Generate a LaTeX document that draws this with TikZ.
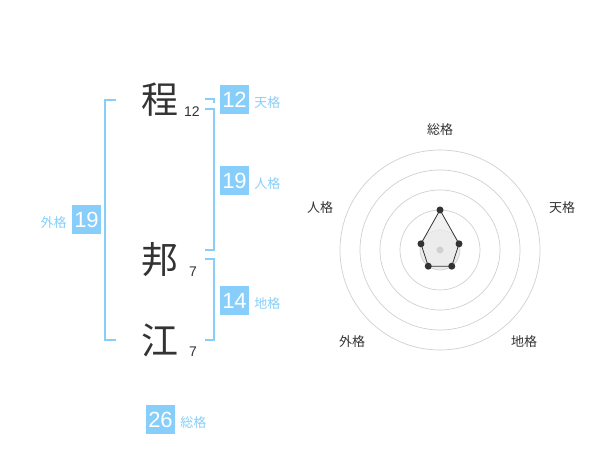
\documentclass[tikz,border=0pt]{standalone}
\usepackage{fontspec}
\setmainfont{Liberation Sans}
\newfontfamily\cjk{Noto Sans CJK JP}
\usetikzlibrary{positioning}
\definecolor{kakublue}{RGB}{135,206,250}
\definecolor{inkgray}{RGB}{51,51,51}
\definecolor{ringgray}{RGB}{208,208,208}
\definecolor{fillgray}{RGB}{236,236,236}

\begin{document}
\begin{tikzpicture}[x=1pt,y=-1pt]
    \tikzset{
        kanji/.style={font=\cjk\fontsize{37}{37}\selectfont, text=inkgray, inner sep=0pt},
        strokes/.style={font=\fontsize{14}{14}\selectfont, text=inkgray, inner sep=0pt},
        numbox/.style={fill=kakublue, text=white, font=\fontsize{22}{22}\selectfont,
            minimum width=29pt, minimum height=29pt, inner sep=0pt},
        kakulabel/.style={font=\cjk\fontsize{13}{13}\selectfont, text=kakublue, inner sep=0pt,
            yshift=-3pt},
        bracket/.style={kakublue, line width=1.6pt},
        ring/.style={ringgray, line width=0.7pt},
        axislabel/.style={font=\cjk\fontsize{13}{13}\selectfont, text=inkgray, inner sep=0pt}
    }
    \useasboundingbox (0,0) rectangle (600,470);

    % name
    \node[kanji] (sei) at (160,100) {程};
    \node[kanji] (mei1) at (160,260) {邦};
    \node[kanji] (mei2) at (160,340) {江};
    \node[strokes] (sei-n) at (192,112) {12};
    \node[strokes] (mei1-n) at (193,272) {7};
    \node[strokes] (mei2-n) at (193,352) {7};

    % brackets
    \draw[bracket] (205,99) -- (214,99) -- (214,103);
    \draw[bracket] (205,109) -- (214,109) -- (214,250) -- (205,250);
    \draw[bracket] (205,259) -- (214,259) -- (214,340) -- (205,340);
    \draw[bracket] (116,100) -- (105,100) -- (105,340) -- (116,340);

    % kakusu
    \node[numbox] (ten) at (234.5,100) {12};
    \node[kakulabel, right=5pt of ten] (ten-l) {天格};
    \node[numbox] (jin) at (234.5,180.5) {19};
    \node[kakulabel, right=5pt of jin] (jin-l) {人格};
    \node[numbox] (chi) at (234.5,300.5) {14};
    \node[kakulabel, right=5pt of chi] (chi-l) {地格};
    \node[numbox] (gai) at (86.5,220) {19};
    \node[kakulabel, left=5pt of gai] (gai-l) {外格};
    \node[numbox] (sou) at (160.5,419.5) {26};
    \node[kakulabel, right=5pt of sou] (sou-l) {総格};

    % radar
    \begin{scope}[shift={(440,250)}, x=1pt, y=1pt]
        \fill[fillgray] (0,0) circle (20);
        \foreach \r in {20,40,60,80,100}
            \draw[ring] (0,0) circle (\r);
        \foreach \name/\ang/\val in {p1/90/40, p2/18/20, p3/-54/20, p4/-126/20, p5/162/20}
            \coordinate (\name) at (\ang:\val);
        \fill[fillgray, opacity=0.7] (p1) -- (p2) -- (p3) -- (p4) -- (p5) -- cycle;
        \draw[inkgray, line width=0.8pt] (p1) -- (p2) -- (p3) -- (p4) -- (p5) -- cycle;
        \foreach \name in {p1,p2,p3,p4,p5}
            \fill[inkgray] (\name) circle (3.5);
        \fill[ringgray] (0,0) circle (3.5);
    \end{scope}
    \node[axislabel] (ax-sou) at (440,130) {総格};
    \node[axislabel] (ax-ten) at (562,208) {天格};
    \node[axislabel] (ax-chi) at (524,342) {地格};
    \node[axislabel] (ax-gai) at (352,342) {外格};
    \node[axislabel] (ax-jin) at (320,208) {人格};

\end{tikzpicture}
\end{document}
